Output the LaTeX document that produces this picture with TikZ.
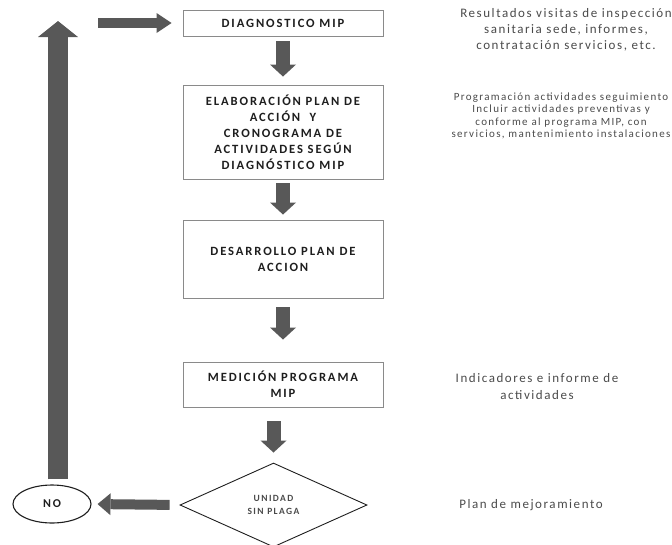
\documentclass[tikz,border=0pt]{standalone}
\usepackage{fontspec}
\setmainfont{Carlito}
\newfontfamily\boxfont[LetterSpace=15]{Carlito}
\newfontfamily\notefont[LetterSpace=12]{Carlito}
\usetikzlibrary{arrows.meta, shapes.geometric}
\definecolor{fcInk}{HTML}{1E1E1E}
\definecolor{fcBorder}{HTML}{8A8A8A}
\definecolor{fcArrow}{HTML}{585858}
\definecolor{fcNote}{HTML}{4A4A4A}
\tikzset{
  paso/.style={
    draw=fcBorder, line width=0.9pt, fill=white, align=center,
    minimum width=200pt, inner sep=2pt, text=fcInk,
    font=\boxfont\bfseries\fontsize{12.6}{16}\selectfont
  },
  decision/.style={
    diamond, draw=fcInk, line width=0.9pt, align=center, inner sep=1pt,
    minimum width=187pt, minimum height=84pt, text=fcNote,
    font=\boxfont\bfseries\fontsize{9.5}{13}\selectfont
  },
  fin/.style={
    ellipse, draw=fcInk, line width=1.1pt, inner sep=1pt,
    minimum width=78pt, minimum height=38pt, text=fcInk,
    font=\boxfont\bfseries\fontsize{12}{14}\selectfont
  },
  nota/.style={
    align=center, inner sep=0pt, text=fcNote,
    font=\notefont\fontsize{13}{16}\selectfont
  },
  flecha/.style={-{Triangle[width=26pt, length=12pt, line width=0pt]}, line width=14pt, draw=fcArrow},
  flechah/.style={-{Triangle[width=22pt, length=13pt, line width=0pt]}, line width=10pt, draw=fcArrow},
  entrada/.style={-{Triangle[width=20pt, length=15pt, line width=0pt]}, line width=10pt, draw=fcArrow},
  retorno/.style={-{Triangle[width=40pt, length=16pt, line width=0pt]}, line width=20pt, draw=fcArrow},
}
\begin{document}
\begin{tikzpicture}[x=1pt, y=-1pt]
  \useasboundingbox (0,0) rectangle (672,544);

  \node[paso, minimum height=26pt] (diag) at (283,23)    {DIAGNOSTICO MIP};
  \node[paso, minimum height=94pt] (plan) at (283,132)   {ELABORACIÓN PLAN DE\\ACCIÓN\ \ Y\\CRONOGRAMA DE\\ACTIVIDADES SEGÚN\\DIAGNÓSTICO MIP};
  \node[paso, minimum height=78pt] (desa) at (283,259)   {DESARROLLO PLAN DE\\ACCION};
  \node[paso, minimum height=45pt] (medi) at (283,384.5) {MEDICIÓN PROGRAMA\\MIP};
  \node[decision] (unidad) at (273.5,505) {UNIDAD\\SIN PLAGA};
  \node[fin] (no) at (52,504) {NO};

  \coordinate (vuelta) at (58,21);
  \coordinate (inicio) at (98,23);

  \draw[flecha, shorten <=5pt,  shorten >=8pt]  (diag) -- (plan);
  \draw[flecha, shorten <=4pt,  shorten >=5pt]  (plan) -- (desa);
  \draw[flecha, shorten <=9pt,  shorten >=22pt] (desa) -- (medi);
  \draw[flecha, shorten <=14pt, shorten >=10pt] (medi.south -| unidad.north) -- (unidad.north);
  \draw[flechah, shorten <=10pt, shorten >=6pt] (unidad.west) -- (no.east);
  \draw[retorno, shorten <=5pt] (no.north -| vuelta) -- (vuelta);
  \draw[entrada, shorten >=11pt] (inicio) -- (diag.west);

  % notas al margen
  \node[nota] (n1) at (566,30) {Resultados visitas de inspección\\sanitaria sede, informes,\\contratación servicios, etc.};
  \node[nota, font=\notefont\fontsize{11}{12.5}\selectfont] (n2) at (561,116) {Programación actividades seguimiento\\Incluir actividades preventivas y\\conforme al programa MIP, con\\servicios, mantenimiento instalaciones};
  \node[nota, font=\notefont\fontsize{13}{17}\selectfont] (n3) at (537,386.5) {Indicadores e informe de\\actividades};
  \node[nota] (n4) at (531,505) {Plan de mejoramiento};
\end{tikzpicture}
\end{document}
